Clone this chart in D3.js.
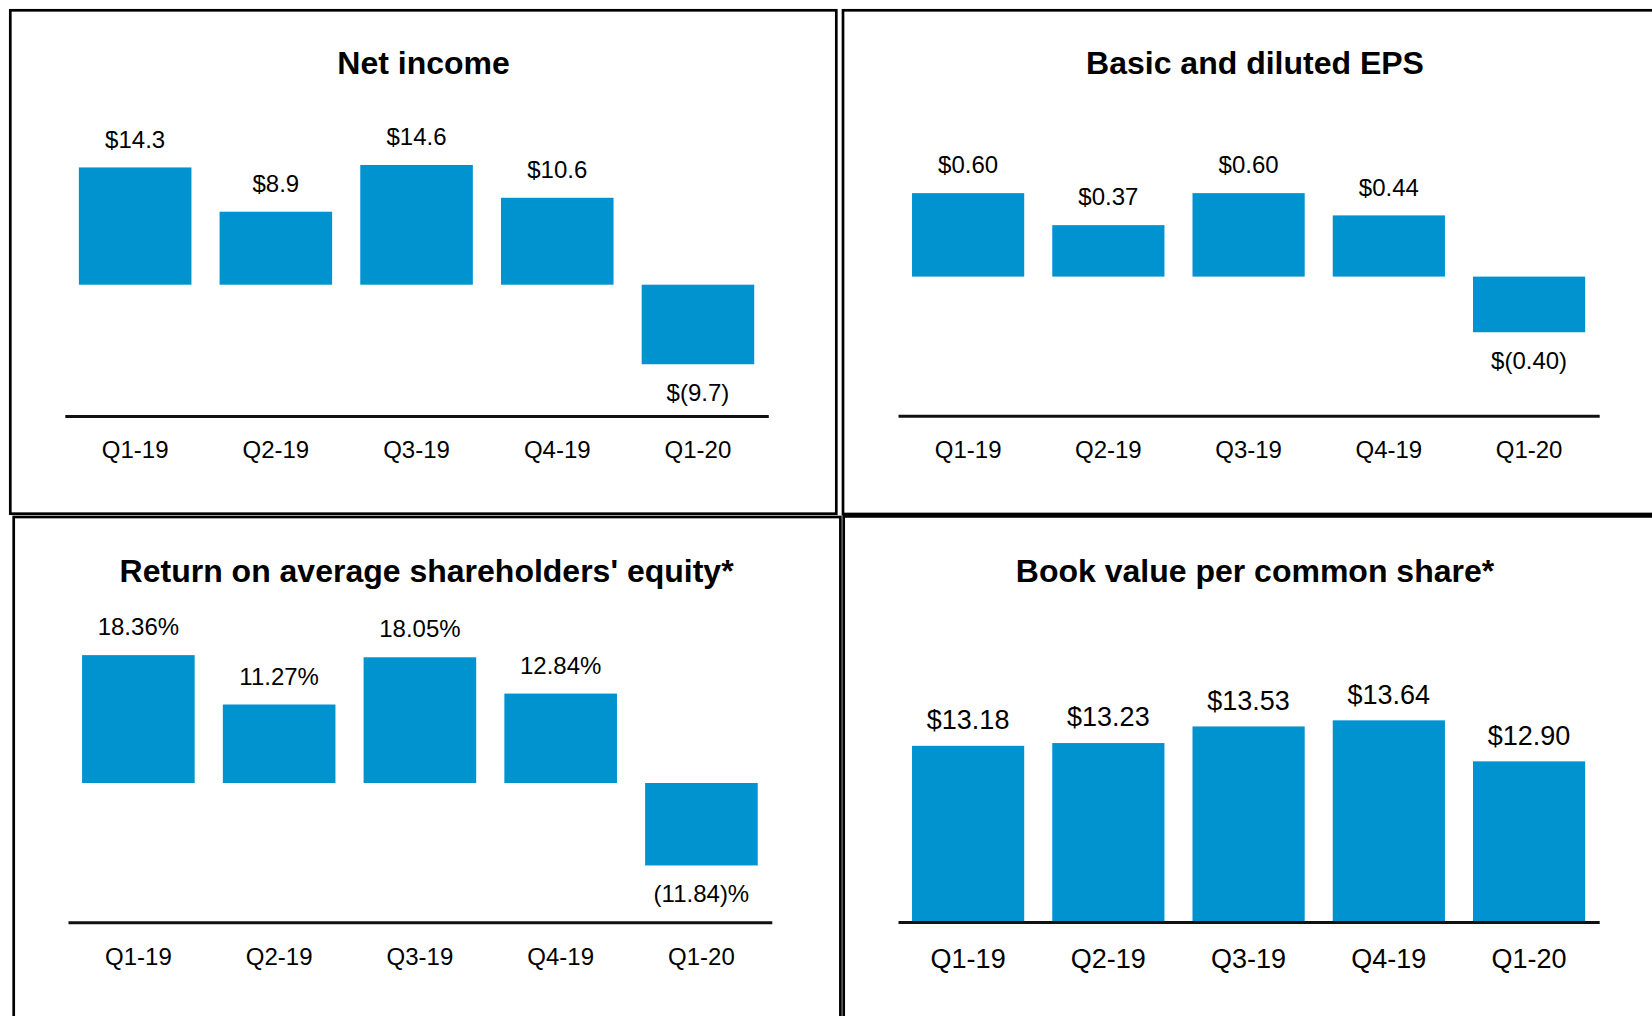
<!DOCTYPE html>
<html>
<head>
<meta charset="utf-8">
<script src="https://cdn.jsdelivr.net/npm/d3@7"></script>
<style>
  html, body { margin: 0; padding: 0; background: #fff; }
  svg { display: block; }
  text { font-family: "Liberation Sans", Arial, Helvetica, sans-serif; fill: #000; }
</style>
</head>
<body>
<svg id="chart" width="1652" height="1016"></svg>
<script>
// ---- Data ----
const quarters = ["Q1-19", "Q2-19", "Q3-19", "Q4-19", "Q1-20"];
const netIncome = [14.3, 8.9, 14.6, 10.6, -9.7];
const eps = [0.60, 0.37, 0.60, 0.44, -0.40];
const roe = [18.36, 11.27, 18.05, 12.84, -11.84];
const bookValue = [13.18, 13.23, 13.53, 13.64, 12.90];
const titles = ["Net income", "Basic and diluted EPS", "Return on average shareholders' equity*", "Book value per common share*"];

// ---- Formatters ----
const fmtMoney = d => d < 0 ? "$(" + Math.abs(d).toFixed(1) + ")" : "$" + d.toFixed(1);
const fmtMoney2 = d => d < 0 ? "$(" + Math.abs(d).toFixed(2) + ")" : "$" + d.toFixed(2);
const fmtPct = d => d < 0 ? "(" + Math.abs(d).toFixed(2) + ")%" : d.toFixed(2) + "%";

const BAR = "#0093d0";
const svg = d3.select("#chart");

function panel(cfg) {
  const g = svg.append("g");
  // panel frame
  g.append("rect")
    .attr("x", cfg.frame[0]).attr("y", cfg.frame[1])
    .attr("width", cfg.frame[2]).attr("height", cfg.frame[3])
    .attr("fill", "none").attr("stroke", "#000").attr("stroke-width", 2.7);

  const x = d3.scaleBand().domain(quarters).range(cfg.xr).paddingInner(0.2).paddingOuter(0.1);
  const y = d3.scaleLinear().domain(cfg.domain).range(cfg.yr);
  const base = y(cfg.base);
  const data = quarters.map((q, i) => ({ q, v: cfg.values[i] }));

  g.selectAll("rect.bar").data(data).enter().append("rect")
    .attr("class", "bar")
    .attr("x", d => x(d.q))
    .attr("width", x.bandwidth())
    .attr("y", d => Math.min(y(d.v), base))
    .attr("height", d => Math.abs(y(d.v) - base))
    .attr("fill", BAR);

  g.selectAll("text.val").data(data).enter().append("text")
    .attr("class", "val")
    .attr("x", d => x(d.q) + x.bandwidth() / 2)
    .attr("y", d => d.v >= cfg.base ? y(d.v) - cfg.gapPos : y(d.v) + cfg.gapNeg)
    .attr("text-anchor", "middle")
    .attr("font-size", cfg.fs)
    .text(d => cfg.fmt(d.v));

  // category axis (separate baseline at the bottom of the value range)
  const axisY = y(cfg.domain[0]);
  const axis = d3.axisBottom(x).tickSize(0).tickSizeOuter(0);
  const ag = g.append("g").attr("transform", `translate(0,${axisY})`).call(axis);
  ag.select(".domain").attr("stroke", "#111").attr("stroke-width", 3);
  ag.selectAll(".tick text")
    .attr("y", cfg.catOff).attr("dy", null)
    .attr("font-size", cfg.fs)
    .attr("font-family", "Liberation Sans, Arial, sans-serif")
    .attr("fill", "#000");

  g.append("text")
    .attr("x", cfg.titleX).attr("y", cfg.titleY)
    .attr("text-anchor", "middle")
    .attr("font-size", 32).attr("font-weight", "bold")
    .text(cfg.title);
}

panel({
  frame: [10.3, 10.3, 826, 503.4],
  title: titles[0], titleX: 423.6, titleY: 74.3,
  values: netIncome, fmt: fmtMoney,
  xr: [64.8, 768.3], domain: [-16, 16], yr: [415.9, 153.5], base: 0,
  fs: 24, gapPos: 19.5, gapNeg: 37, catOff: 42.6
});
panel({
  frame: [843, 10.3, 1000, 503.7],
  title: titles[1], titleX: 1255, titleY: 74.3,
  values: eps, fmt: fmtMoney2,
  xr: [898, 1599.2], domain: [-1, 1], yr: [415.7, 137.5], base: 0,
  fs: 24, gapPos: 19.7, gapNeg: 36.6, catOff: 42.6
});
panel({
  frame: [13.7, 517, 826.7, 1000],
  title: titles[2], titleX: 426.6, titleY: 581.7,
  values: roe, fmt: fmtPct,
  xr: [68, 771.8], domain: [-20, 20], yr: [922.3, 643.7], base: 0,
  fs: 24, gapPos: 20, gapNeg: 36.6, catOff: 42.6
});
panel({
  frame: [843.7, 516.4, 1000, 1000],
  title: titles[3], titleX: 1255, titleY: 581.7,
  values: bookValue, fmt: fmtMoney2,
  xr: [898, 1599.2], domain: [10, 14], yr: [922, 700.4], base: 10,
  fs: 27, gapPos: 16.7, gapNeg: 36.6, catOff: 46
});
</script>
</body>
</html>
